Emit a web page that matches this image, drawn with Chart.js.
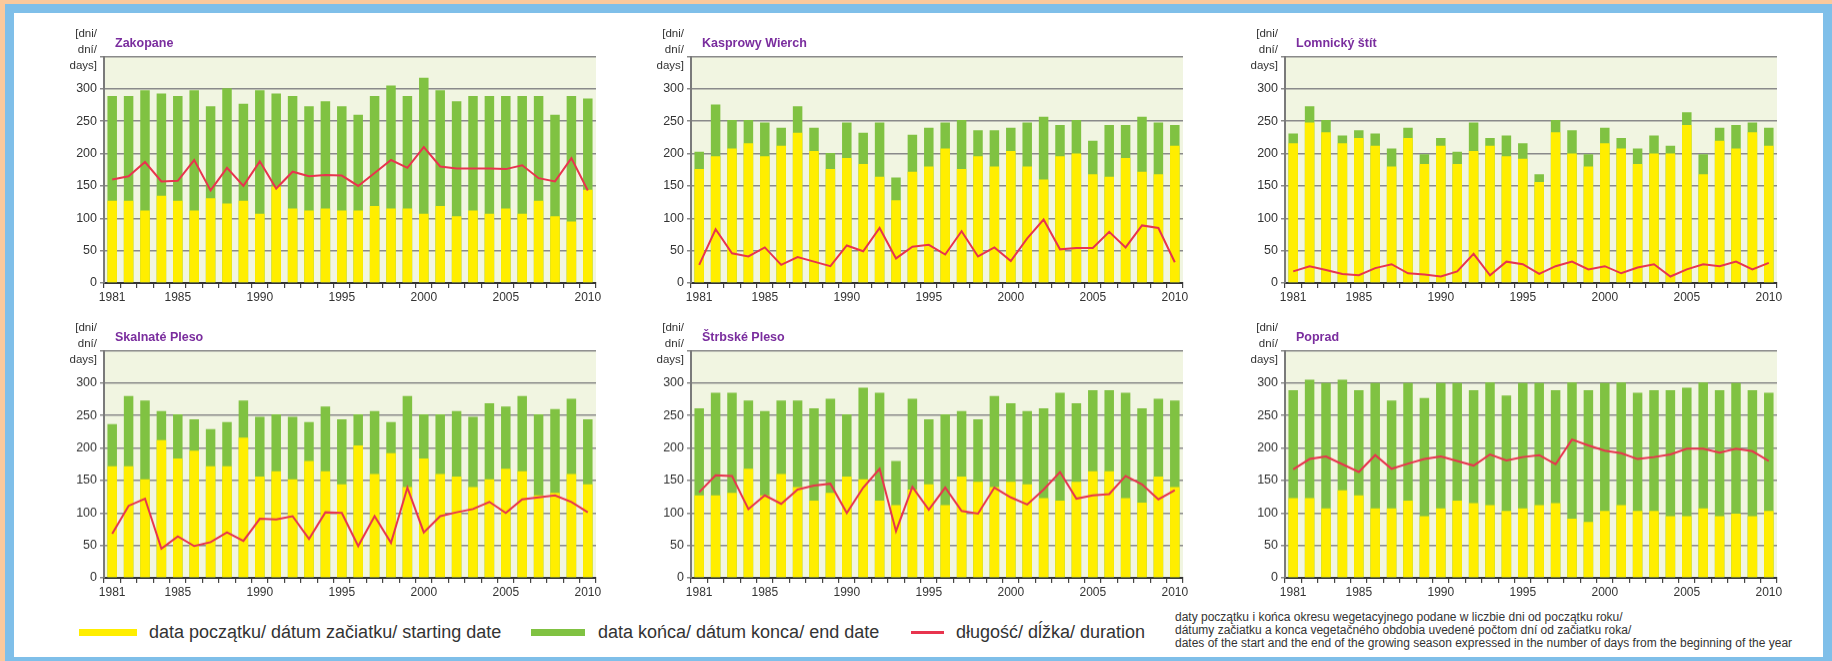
<!DOCTYPE html>
<html>
<head>
<meta charset="utf-8">
<script src="https://cdn.jsdelivr.net/npm/chart.js@4.4.1/dist/chart.umd.min.js"></script>
<style>
  html, body { margin:0; padding:0; width:1832px; height:661px; overflow:hidden; background:#fbc99c; font-family:"Liberation Sans", Arial, sans-serif; }
  #frame { position:absolute; left:5px; top:4px; width:1827px; height:662px; box-sizing:border-box; border:9px solid #7fbfe9; background:#fff; }
  .cv { position:absolute; }
  .ytitle { position:absolute; text-align:right; font-size:11.5px; line-height:16px; color:#333; width:60px; }
  .ptitle { position:absolute; font-size:12.5px; font-weight:bold; color:#7a2d9e; white-space:nowrap; }
  .sw { position:absolute; }
  .lt { position:absolute; font-size:18px; color:#333; white-space:nowrap; line-height:20px; }
  .note { position:absolute; left:1175px; top:611px; font-size:12px; line-height:13px; color:#333; white-space:nowrap; }
</style>
</head>
<body>
<div id="frame"></div>
<div id="root"></div>
<div class="sw" style="left:79px;top:629px;width:58px;height:7px;background:#ffee00"></div>
<div class="lt" style="left:149px;top:622px">data początku/ dátum začiatku/ starting date</div>
<div class="sw" style="left:531px;top:629px;width:54px;height:7px;background:#80c242"></div>
<div class="lt" style="left:598px;top:622px">data końca/ dátum konca/ end date</div>
<div class="sw" style="left:911px;top:631px;width:33px;height:2.5px;background:#e8344e"></div>
<div class="lt" style="left:956px;top:622px">długość/ dĺžka/ duration</div>
<div class="note">daty początku i końca okresu wegetacyjnego podane w liczbie dni od początku roku/<br>dátumy začiatku a konca vegetačného obdobia uvedené počtom dní od začiatku roka/<br>dates of the start and the end of the growing season expressed in the number of days from the beginning of the year</div>
<script>
const years = ['1981','1982','1983','1984','1985','1986','1987','1988','1989','1990','1991','1992','1993','1994','1995','1996','1997','1998','1999','2000','2001','2002','2003','2004','2005','2006','2007','2008','2009','2010'];
const shownYears = ['1981','1985','1990','1995','2000','2005','2010'];
const yTicks = [0,50,100,150,200,250,300];
const stations = ['Zakopane','Kasprowy Wierch','Lomnický štít','Skalnaté Pleso','Štrbské Pleso','Poprad'];

const zakStart = [127,127,112,135,127,112,131,123,127,107,149,115,112,115,112,112,119,115,115,107,119,103,112,107,115,107,127,103,95,144];
const zakEnd   = [289,289,298,293,289,298,273,301,277,298,293,289,273,281,273,260,289,305,289,317,298,281,289,289,289,289,289,260,289,285];
const zakDur   = [160,165,187,157,158,190,143,178,150,188,146,172,165,167,166,150,170,190,178,210,180,177,177,177,176,182,162,157,193,143];

const kasStart = [176,196,208,216,196,212,232,204,176,193,184,164,128,172,180,208,176,196,180,204,180,160,196,200,168,164,193,172,168,212];
const kasEnd   = [203,276,252,252,248,240,273,240,201,248,232,248,163,229,240,248,252,236,236,240,248,257,244,252,220,244,244,257,248,244];
const kasDur   = [28,83,46,41,55,28,40,33,26,58,49,85,38,56,59,44,80,41,55,34,69,98,52,54,54,79,55,89,85,32];

const lomStart = [216,248,233,216,224,212,180,224,184,212,184,204,212,196,192,156,233,200,180,216,208,184,200,200,244,168,220,208,233,212];
const lomEnd   = [231,273,252,228,236,231,208,240,199,224,203,248,224,228,216,168,252,236,199,240,224,208,228,212,264,199,240,244,248,240];
const lomDur   = [18,26,20,14,12,23,29,15,13,10,18,45,12,33,29,14,26,33,21,26,15,24,29,10,21,29,26,33,21,31];

const skaStart = [172,172,152,212,184,196,172,172,216,156,164,152,180,164,144,204,160,192,140,184,160,156,140,152,168,164,127,131,160,144];
const skaEnd   = [237,280,273,257,252,244,229,240,273,248,252,248,240,264,244,252,257,240,280,252,252,257,248,269,264,280,252,260,276,244];
const skaDur   = [68,111,122,45,64,49,55,70,57,91,90,95,60,101,100,49,95,54,139,70,95,101,106,117,100,121,124,127,117,101];

const strStart = [127,127,131,168,127,160,140,119,131,156,152,119,112,136,144,112,156,148,140,148,144,123,119,148,164,164,123,116,156,140];
const strEnd   = [261,285,285,273,257,273,273,261,276,252,293,285,180,276,244,252,257,244,280,269,257,261,285,269,289,289,285,261,276,273];
const strDur   = [132,158,157,106,127,114,136,142,145,100,139,168,72,140,105,139,103,99,139,124,113,136,163,122,127,129,157,144,121,135];

const popStart = [123,123,107,135,127,107,107,119,95,107,119,115,112,103,107,112,115,91,86,103,112,103,103,95,95,107,95,99,95,103];
const popEnd   = [289,305,300,305,289,300,273,300,277,300,300,289,301,281,300,300,289,301,289,300,301,285,289,289,293,301,289,300,289,285];
const popDur   = [167,183,187,175,163,189,168,176,183,187,180,173,190,181,186,189,175,213,204,196,192,183,186,190,199,199,193,199,195,180];

const series = [
  [zakStart, zakEnd, zakDur],
  [kasStart, kasEnd, kasDur],
  [lomStart, lomEnd, lomDur],
  [skaStart, skaEnd, skaDur],
  [strStart, strEnd, strDur],
  [popStart, popEnd, popDur]
];

// layout (plot areas)
const plotLefts = [104, 691, 1285];
const plotTops = [55.5, 350];
const plotW = 492, plotH = 227.5;
const padL = 60, padT = 10, padR = 20, padB = 32;

const bgPlugin = {
  id: 'plotbg',
  beforeDraw(chart) {
    const a = chart.chartArea, c = chart.ctx;
    c.save(); c.fillStyle = '#f1f5e1'; c.fillRect(a.left, a.top, a.right - a.left, a.bottom - a.top); c.restore();
  }
};

const root = document.getElementById('root');
for (let i = 0; i < 6; i++) {
  const L = plotLefts[i % 3], T = plotTops[Math.floor(i / 3)];
  const cv = document.createElement('canvas');
  cv.className = 'cv';
  const w = padL + plotW + padR, h = padT + plotH + padB;
  cv.width = w; cv.height = h;
  cv.style.left = (L - padL) + 'px'; cv.style.top = (T - padT) + 'px';
  cv.style.width = w + 'px'; cv.style.height = h + 'px';
  root.appendChild(cv);

  const yt = document.createElement('div');
  yt.className = 'ytitle';
  yt.style.left = (L - 7 - 60) + 'px'; yt.style.top = (T - 31) + 'px';
  yt.innerHTML = '[dni/<br>dní/<br>days]';
  root.appendChild(yt);

  const pt = document.createElement('div');
  pt.className = 'ptitle';
  pt.style.left = (L + 11) + 'px'; pt.style.top = (T - 20) + 'px';
  pt.textContent = stations[i];
  root.appendChild(pt);

  const [st, en, du] = series[i];
  new Chart(cv, {
    data: {
      labels: years,
      datasets: [
        { type: 'line', data: du, borderColor: '#e8344e', borderWidth: 2, pointRadius: 0, tension: 0, order: 0 },
        { type: 'bar', data: st, backgroundColor: '#ffee00', barPercentage: 0.58, categoryPercentage: 1, order: 1 },
        { type: 'bar', data: en, backgroundColor: '#80c242', barPercentage: 0.58, categoryPercentage: 1, order: 2 }
      ]
    },
    options: {
      responsive: false, animation: false, devicePixelRatio: 1,
      layout: { padding: { left: 0, top: padT, right: padR, bottom: 0 } },
      plugins: { legend: { display: false }, tooltip: { enabled: false } },
      scales: {
        x: {
          stacked: true, offset: true,
          grid: { display: true, drawOnChartArea: false, offset: true, tickLength: 5, color: '#444', lineWidth: 1.2 },
          border: { display: true, color: '#333', width: 2 },
          ticks: { autoSkip: false, maxRotation: 0, minRotation: 0, padding: 2, color: '#333', font: { family: 'Liberation Sans', size: 12 },
                   callback: function(v) { const l = years[v]; return shownYears.includes(l) ? l : ''; } },
          afterFit(s) { s.height = padB; }
        },
        y: {
          stacked: false, min: 0, max: 350,
          afterBuildTicks(s) { s.ticks = yTicks.concat([350]).map(v => ({ value: v })); },
          grid: { color: '#8a8a8a', lineWidth: 1.5, tickLength: 4, drawTicks: true },
          border: { display: true, color: '#7a7a7a', width: 2 },
          ticks: { padding: 3, color: '#333', font: { family: 'Liberation Sans', size: 12.5 },
                   callback: function(v) { return yTicks.includes(v) ? String(v) : ''; } },
          afterFit(s) { s.width = padL; }
        }
      }
    },
    plugins: [bgPlugin]
  });
}
</script>
</body>
</html>
